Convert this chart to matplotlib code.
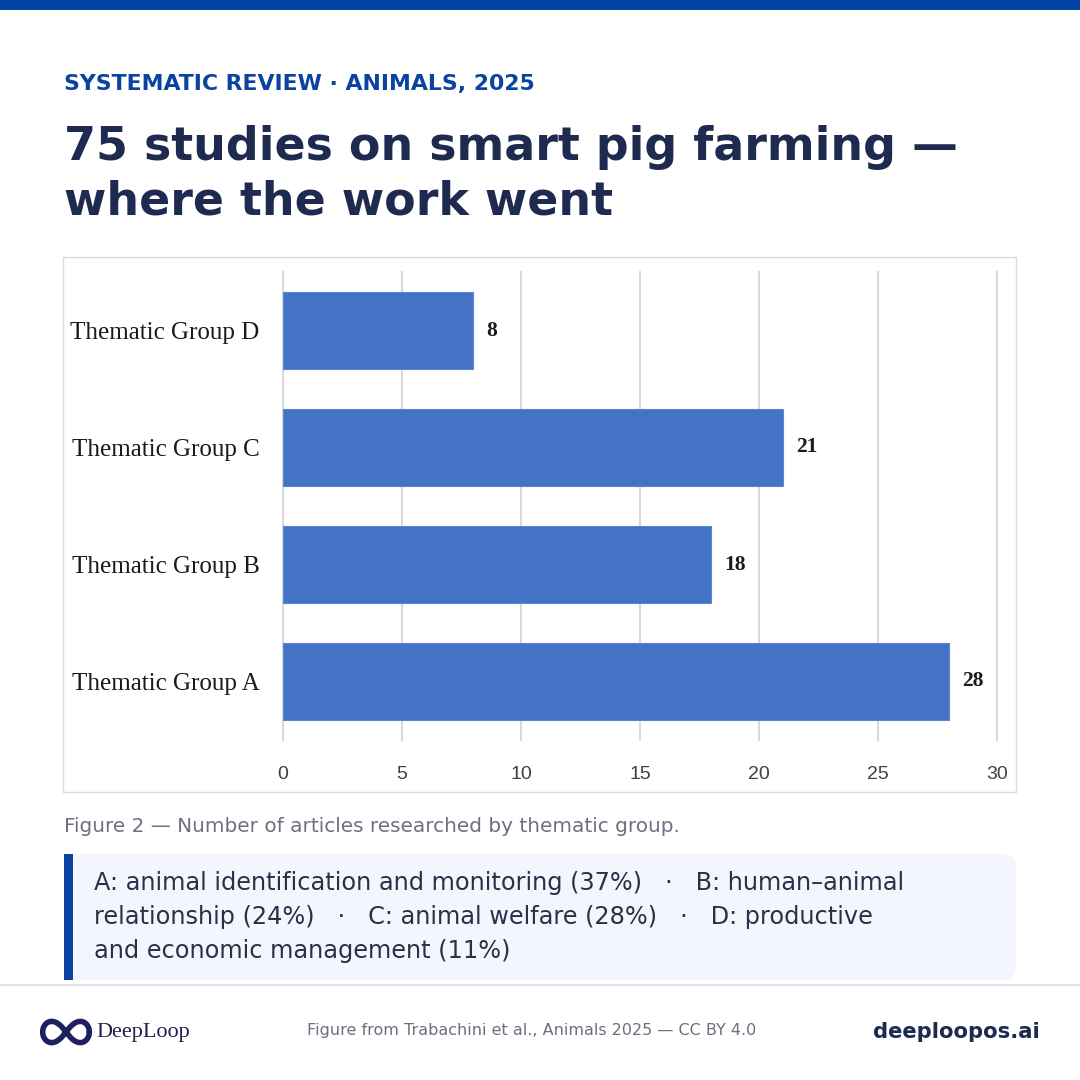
import numpy as np
import matplotlib.pyplot as plt
from matplotlib.patches import Rectangle, FancyBboxPatch

# data
groups = ['Thematic Group A', 'Thematic Group B', 'Thematic Group C', 'Thematic Group D']
articles = [28, 18, 21, 8]
x_ticks = [0, 5, 10, 15, 20, 25, 30]

kicker = 'SYSTEMATIC REVIEW · ANIMALS, 2025'
title = '75 studies on smart pig farming —\nwhere the work went'
caption = 'Figure 2 — Number of articles researched by thematic group.'
note_lines = [
    'A: animal identification and monitoring (37%)   ·   B: human–animal',
    'relationship (24%)   ·   C: animal welfare (28%)   ·   D: productive',
    'and economic management (11%)',
]
source = 'Figure from Trabachini et al., Animals 2025 — CC BY 4.0'
site = 'deeploopos.ai'

W = H = 1080
navy = '#1e2a4f'
blue = '#0a44a0'


def fx(px):
    return px / W


def fy(py):
    return 1 - py / H


fig = plt.figure(figsize=(10.8, 10.8), dpi=100)
fig.patch.set_facecolor('white')

# top bar
fig.add_artist(Rectangle((0, fy(10)), 1, 10 / H, transform=fig.transFigure,
                         color='#0044a6', lw=0))

fig.text(fx(64), fy(84), kicker, fontsize=15.8, fontweight='bold', color=blue,
         va='center', ha='left')
fig.text(fx(64), fy(175), title, fontsize=33, fontweight='bold', color=navy,
         va='center', ha='left', linespacing=1.27)

# chart panel
fig.add_artist(Rectangle((fx(63), fy(792)), 953 / W, 535 / H, transform=fig.transFigure,
                         facecolor='white', edgecolor='#dcdcdc', lw=1, zorder=-1))

ax = fig.add_axes([fx(283), fy(740), 714 / W, 468 / H])
ax.patch.set_alpha(0)
ypos = np.arange(len(groups))
ax.barh(ypos, articles, height=0.66, color='#4472c4', edgecolor='#5b86d0', lw=0.8, zorder=3)
ax.set_xlim(0, 30)
ax.set_ylim(-0.5, 3.5)
ax.set_xticks(x_ticks)
ax.set_xticklabels([str(t) for t in x_ticks], fontsize=14, color='#404040',
                   family='Liberation Sans')
ax.set_yticks(ypos)
ax.set_yticklabels(groups, fontsize=18, color='#1a1a1a', family='Liberation Serif')
ax.tick_params(axis='x', length=0, pad=19)
ax.tick_params(axis='y', length=0, pad=17)
ax.grid(axis='x', color='#d9d9d9', lw=1.5, zorder=0)
for gl in ax.get_xgridlines():
    gl.set_clip_on(False)
ax.set_axisbelow(True)
for s in ax.spines.values():
    s.set_visible(False)
for y, v in zip(ypos, articles):
    ax.text(v + 0.55, y, str(v), va='center', ha='left', fontsize=15.5,
            fontweight='bold', color='#1a1a1a', family='Liberation Serif')

fig.text(fx(64), fy(826), caption, fontsize=14.4, color='#6b6f80', va='center', ha='left')

# note box
fig.add_artist(FancyBboxPatch((fx(64), fy(980)), 952 / W, 126 / H,
                              boxstyle='round,pad=0,rounding_size=0.012',
                              transform=fig.transFigure, facecolor='#f3f6fd',
                              edgecolor='none', zorder=-1))
fig.add_artist(Rectangle((fx(64), fy(980)), 9 / W, 126 / H, transform=fig.transFigure,
                         color='#0a44a0', lw=0))
for i, line in enumerate(note_lines):
    fig.text(fx(94), fy(883 + 34 * i), line, fontsize=17.3, color='#2a3048',
             va='center', ha='left')

# separator
fig.add_artist(Rectangle((0, fy(986)), 1, 2 / H, transform=fig.transFigure,
                         color='#e2e4ec', lw=0))

# footer logo
lax = fig.add_axes([fx(38), fy(1046), 56 / W, 28 / H])
t = np.linspace(0, 2 * np.pi, 400)
lx = np.cos(t) / (1 + np.sin(t) ** 2)
ly = np.sin(t) * np.cos(t) / (1 + np.sin(t) ** 2)
lax.plot(lx, ly * 1.5, color='#1d2160', lw=4, solid_capstyle='round')
lax.set_xlim(-1.2, 1.2)
lax.set_ylim(-0.7, 0.7)
lax.axis('off')
fig.text(fx(96), fy(1033), 'DeepLoop', fontsize=16, color='#1e2050',
         family='Liberation Serif', va='center', ha='left')

fig.text(fx(532), fy(1031), source, fontsize=11.5, color='#6b6f80', va='center', ha='center')
fig.text(fx(1040), fy(1032), site, fontsize=15.2, fontweight='bold', color=navy,
         va='center', ha='right')

fig.savefig('out.png', dpi=100, facecolor='white')
